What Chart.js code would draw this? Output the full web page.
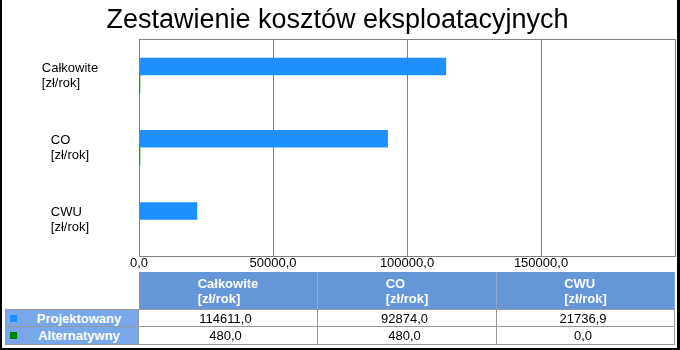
<!DOCTYPE html>
<html>
<head>
<meta charset="utf-8">
<script src="https://cdn.jsdelivr.net/npm/chart.js@4"></script>
<style>
  html, body { margin: 0; padding: 0; background: #fff; }
  #wrap { position: relative; width: 680px; height: 350px; overflow: hidden; font-family: "Liberation Sans", Arial, sans-serif; }
  #chart { position: absolute; left: 0; top: 0; }
  #frame { position: absolute; left: 0; top: 0; width: 680px; height: 350px; box-sizing: border-box;
           border-left: 2px solid #000; border-right: 3px solid #000; border-bottom: 2px solid #000; pointer-events: none; }
  #table { position: absolute; left: 5px; top: 272px; display: grid;
           grid-template-columns: 134px 179px 179px 178px; grid-template-rows: 37px 18px 18px; }
  #table div { box-sizing: border-box; font-size: 13px; display: flex; align-items: center; justify-content: center; }
  .head { background: #6597d8; color: #fff; font-weight: bold; border-right: 1px solid #8aa9d0; }
  .head span { text-align: left; line-height: 15px; }
  .rowhead { background: #78a8ea; color: #fff; font-weight: bold; border: 1px solid #999; border-top: none; position: relative; padding-left: 14px; }
  .rowhead i { position: absolute; left: 4px; top: 5px; width: 7px; height: 7px; }
  .cell { border-right: 1px solid #999; border-bottom: 1px solid #999; color: #000; padding-right: 5px; }
  .first { border-top: 1px solid #999; }
</style>
</head>
<body>
<div id="wrap">
  <canvas id="chart" width="680" height="350"></canvas>
  <div id="table"></div>
  <div id="frame"></div>
</div>
<script>
// data
const chartTitle = 'Zestawienie kosztów eksploatacyjnych'
const categories = [['Całkowite', '[zł/rok]'], ['CO', '[zł/rok]'], ['CWU', '[zł/rok]']]
const seriesNames = ['Projektowany', 'Alternatywny']
const seriesColors = ['#1e90ff', '#008000']
const projektowany = [114611.0, 92874.0, 21736.9]
const alternatywny = [480.0, 480.0, 0.0]
const tickLabels = ['0,0', '50000,0', '100000,0', '150000,0', '']

const FONT = '"Liberation Sans", Arial, sans-serif'
const fmt = v => v.toFixed(1).replace('.', ',')

// y labels: block centered, lines left aligned
const yLabels = {
  id: 'yLabels',
  afterDraw(chart) {
    const ctx = chart.ctx
    const ys = chart.scales.y
    ctx.save()
    ctx.font = '13px ' + FONT
    ctx.fillStyle = '#000'
    ctx.textBaseline = 'alphabetic'
    ctx.textAlign = 'left'
    categories.forEach((lines, i) => {
      const y = ys.getPixelForValue(i)
      const w = Math.max(...lines.map(l => ctx.measureText(l).width))
      const x = 70 - w / 2
      lines.forEach((l, j) => ctx.fillText(l, x, y - 3.5 + j * 15))
    })
    ctx.restore()
  }
}

// gray frame round the plot area
const plotFrame = {
  id: 'plotFrame',
  beforeDatasetsDraw(chart) {
    const a = chart.chartArea
    const ctx = chart.ctx
    ctx.save()
    ctx.strokeStyle = '#808080'
    ctx.lineWidth = 1
    ctx.strokeRect(Math.round(a.left) + 0.5, Math.round(a.top) + 0.5, Math.round(a.right - a.left), Math.round(a.bottom - a.top))
    ctx.restore()
  }
}

new Chart(document.getElementById('chart'), {
  type: 'bar',
  data: {
    labels: categories,
    datasets: [
      { label: seriesNames[0], data: projektowany, backgroundColor: seriesColors[0] },
      { label: seriesNames[1], data: alternatywny, backgroundColor: seriesColors[1] }
    ]
  },
  options: {
    indexAxis: 'y',
    responsive: false,
    animation: false,
    datasets: { bar: { categoryPercentage: 0.484, barPercentage: 1 } },
    layout: { padding: { left: 0, right: 5, top: 0, bottom: 0 } },
    plugins: {
      legend: { display: false },
      tooltip: { enabled: false },
      title: {
        display: true,
        text: chartTitle,
        color: '#000',
        font: { family: FONT, size: 27, weight: 'normal', lineHeight: 1.2 },
        padding: { top: 4, bottom: 2.6 }
      }
    },
    scales: {
      x: {
        min: 0, max: 200000,
        ticks: {
          stepSize: 50000,
          color: '#000',
          padding: 0,
          maxRotation: 0,
          font: { family: FONT, size: 13 },
          callback: (v, i) => tickLabels[i]
        },
        grid: { color: '#808080', drawTicks: false },
        border: { display: false },
        afterFit: s => { s.height = 94 }
      },
      y: {
        ticks: { display: false },
        grid: { display: false },
        border: { display: false },
        afterFit: s => { s.width = 139 }
      }
    }
  },
  plugins: [plotFrame, yLabels]
})

// data table under the chart
const table = document.getElementById('table')
const add = (cls, html) => { const d = document.createElement('div'); d.className = cls; d.innerHTML = html; table.appendChild(d); return d }
add('', '')
categories.forEach(c => add('head', '<span>' + c.join('<br>') + '</span>'))
const rows = [projektowany, alternatywny]
rows.forEach((vals, r) => {
  add('rowhead' + (r === 0 ? ' first' : ''), '<i style="background:' + seriesColors[r] + '"></i>' + seriesNames[r])
  vals.forEach(v => add('cell' + (r === 0 ? ' first' : ''), fmt(v)))
})
</script>
</body>
</html>
